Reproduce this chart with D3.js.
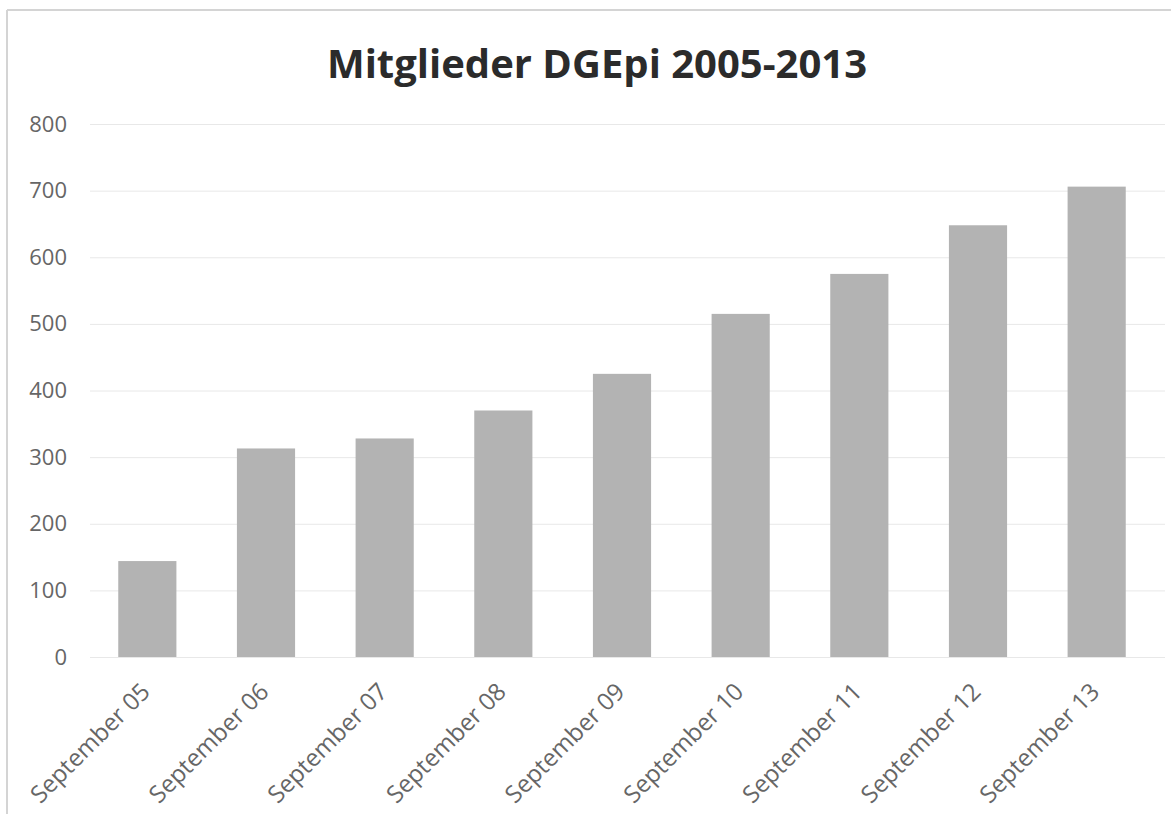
<html>
  <head>
    <meta charset="utf-8">
    <title>Mitglieder DGEpi</title>
    <script src="https://cdn.jsdelivr.net/npm/d3@7"></script>
    <style>
body { margin: 0; background: #fff; }
.grid line { stroke: #e8e8e8; stroke-width: 1px; }
.grid path { display: none; }
.axis text { fill: #666; font-family: "Open Sans", sans-serif; }
.axis path, .axis line { display: none; }
.bar { fill: #b3b3b3; }
.frame { stroke: #d4d4d4; stroke-width: 2px; }
    </style>
  </head>
  <body>
    <script>

var categories = ["September 05", "September 06", "September 07", "September 08", "September 09",
                  "September 10", "September 11", "September 12", "September 13"];
var members = [144, 313, 328, 370, 425, 515, 575, 648, 706];
var yTicks = [0, 100, 200, 300, 400, 500, 600, 700, 800];

var width = 1171,
    height = 814;

var svg = d3.select("body").append("svg")
    .attr("width", width)
    .attr("height", height);

// faint scan edges
svg.append("line").attr("class", "frame").attr("x1", 7).attr("y1", 10).attr("x2", 1171).attr("y2", 10);
svg.append("line").attr("class", "frame").attr("x1", 7).attr("y1", 10).attr("x2", 7).attr("y2", 814);

var x = d3.scaleBand().domain(categories).range([88, 1156]).paddingInner(0.51).paddingOuter(0.255);
var y = d3.scaleLinear().domain([0, 800]).range([657, 124]);

svg.append("g").attr("class", "grid")
    .attr("transform", "translate(90,0)")
    .call(d3.axisLeft(y).tickValues(yTicks).tickSize(-1075).tickFormat(""));

svg.selectAll(".bar").data(members).enter().append("rect")
    .attr("class", "bar")
    .attr("x", function(d, i) { return x(categories[i]); })
    .attr("width", x.bandwidth())
    .attr("y", function(d) { return y(d); })
    .attr("height", function(d) { return y(0) - y(d); });

var ya = svg.append("g").attr("class", "axis")
    .attr("transform", "translate(67,0)")
    .call(d3.axisLeft(y).tickValues(yTicks).tickSize(0).tickPadding(0));
ya.selectAll("text").style("font-size", "22px");

var xa = svg.append("g").attr("class", "axis")
    .attr("transform", "translate(0,672)")
    .call(d3.axisBottom(x).tickSize(0).tickPadding(0));
xa.selectAll("text")
    .style("font-size", "24px")
    .attr("text-anchor", "end")
    .attr("dy", "0.75em")
    .attr("transform", "rotate(-45) translate(-12,0)");

svg.append("text")
    .attr("x", 597).attr("y", 78)
    .attr("text-anchor", "middle")
    .style("font-family", "'Open Sans', sans-serif")
    .style("font-weight", "bold")
    .style("font-size", "40px")
    .style("fill", "#2b2b2b")
    .text("Mitglieder DGEpi 2005-2013");

</script>
  </body>
</html>
